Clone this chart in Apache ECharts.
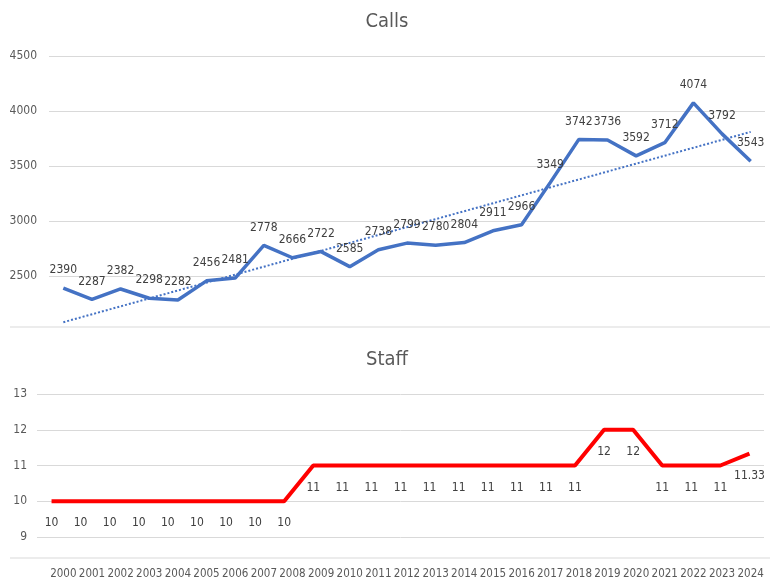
<html>
<head>
<meta charset="UTF-8"/>
<title>Calls and Staff</title>
<script src="https://cdn.jsdelivr.net/npm/echarts@6/dist/echarts.min.js"></script>
<style>
	body { margin: 0; background: #fff; }
	#main { width: 774px; height: 582px; }
</style>
<script>
	// values
	var years = ["2000","2001","2002","2003","2004","2005","2006","2007","2008","2009","2010","2011","2012",
		"2013","2014","2015","2016","2017","2018","2019","2020","2021","2022","2023","2024"];
	var calls = [2390,2287,2382,2298,2282,2456,2481,2778,2666,2722,2585,2738,2799,2780,2804,2911,2966,3349,3742,3736,3592,3712,4074,3792,3543];
	var staff = [10,10,10,10,10,10,10,10,10,11,11,11,11,11,11,11,11,11,11,12,12,11,11,11,11.33];
	var trendEnds = [2080, 3810]; // dotted trend line, first and last year
	var callTicks = [2500, 3000, 3500, 4000, 4500];
	var staffTicks = [9, 10, 11, 12, 13];
</script>
</head>
<body>
<div id="main"></div>
<script>
	var FONT = "'DejaVu Sans Condensed', 'Liberation Sans', sans-serif";
	var chart = echarts.init(document.getElementById("main"));

	var trend = years.map(function(y, i){
		if (i === 0) return trendEnds[0];
		if (i === years.length - 1) return trendEnds[1];
		return null;
	});

	var option = {
		animation: false,
		textStyle: { fontFamily: FONT },
		title: [
			{ text: "Calls", left: "center", top: 7, textStyle: { fontFamily: FONT, fontSize: 20, fontWeight: "normal", color: "#595959" } },
			{ text: "Staff", left: "center", top: 345, textStyle: { fontFamily: FONT, fontSize: 20, fontWeight: "normal", color: "#595959" } }
		],
		grid: [
			{ left: 49, right: 9, top: 56, height: 275 },
			{ left: 37, right: 10, top: 394, height: 143 },
			{ left: 49, right: 9, top: 558, height: 1 }
		],
		xAxis: [
			{ gridIndex: 0, type: "category", data: years, boundaryGap: true,
				axisLine: { show: false }, axisTick: { show: false }, axisLabel: { show: false } },
			{ gridIndex: 1, type: "category", data: years, boundaryGap: true,
				axisLine: { show: false }, axisTick: { show: false }, axisLabel: { show: false } },
			{ gridIndex: 2, type: "category", data: years, boundaryGap: true,
				axisLine: { show: false }, axisTick: { show: false },
				axisLabel: { margin: 9, fontSize: 11.5, color: "#595959", fontFamily: FONT, interval: 0 } }
		],
		yAxis: [
			{ gridIndex: 0, type: "value", min: 2000, max: callTicks[callTicks.length - 1], interval: 500,
				axisLine: { show: false }, axisTick: { show: false },
				axisLabel: { margin: 12, fontSize: 12, color: "#595959", fontFamily: FONT,
					formatter: function(v){ return callTicks.indexOf(v) >= 0 ? String(v) : ""; } },
				splitLine: { lineStyle: { color: ["transparent", "#d9d9d9", "#d9d9d9", "#d9d9d9", "#d9d9d9", "#d9d9d9"], width: 1 } } },
			{ gridIndex: 1, type: "value", min: staffTicks[0], max: staffTicks[staffTicks.length - 1], interval: 1,
				axisLine: { show: false }, axisTick: { show: false },
				axisLabel: { margin: 10, fontSize: 12, color: "#595959", fontFamily: FONT },
				splitLine: { lineStyle: { color: "#d9d9d9", width: 1 } } },
			{ gridIndex: 2, type: "value", show: false }
		],
		graphic: [
			{ type: "line", shape: { x1: 10, y1: 327, x2: 770, y2: 327 }, style: { stroke: "#d9d9d9", lineWidth: 1 } },
			{ type: "line", shape: { x1: 10, y1: 558, x2: 770, y2: 558 }, style: { stroke: "#d9d9d9", lineWidth: 1 } }
		],
		series: [
			{
				name: "Trend", type: "line", xAxisIndex: 0, yAxisIndex: 0, data: trend,
				connectNulls: true, showSymbol: false, symbol: "none", silent: true,
				lineStyle: { color: "#4472C4", width: 2, type: [2, 2] }
			},
			{
				name: "Calls", type: "line", xAxisIndex: 0, yAxisIndex: 0, data: calls,
				symbol: "circle", symbolSize: 0, showSymbol: true, itemStyle: { color: "#4472C4" },
				lineStyle: { color: "#4472C4", width: 3.5 },
				label: { show: true, position: "top", distance: 12, fontSize: 12, color: "#404040", fontFamily: FONT }
			},
			{
				name: "Staff", type: "line", xAxisIndex: 1, yAxisIndex: 1, data: staff,
				symbol: "circle", symbolSize: 0, showSymbol: true, itemStyle: { color: "#FF0000" },
				lineStyle: { color: "#FF0000", width: 4 },
				label: { show: true, position: "bottom", distance: 16, fontSize: 12, color: "#404040", fontFamily: FONT,
					formatter: function(p){ return String(p.value); } }
			}
		]
	};
	chart.setOption(option);
</script>
</body>
</html>
